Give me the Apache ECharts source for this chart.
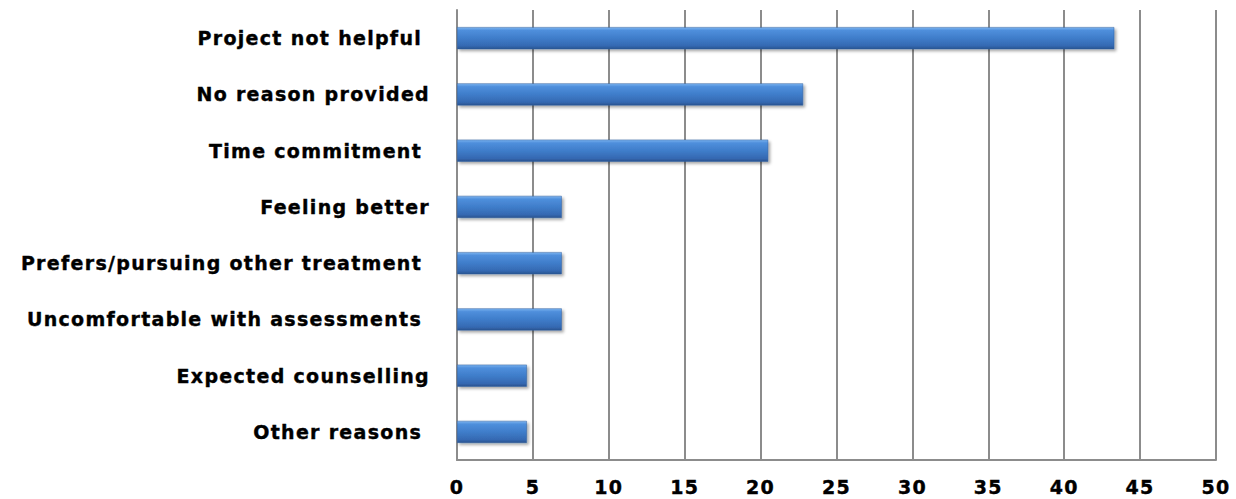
<!DOCTYPE html>
<html>
<head>
<meta charset="utf-8">
<script src="https://cdn.jsdelivr.net/npm/echarts@6/dist/echarts.min.js"></script>
<style>
  html, body { margin: 0; padding: 0; background: #ffffff; }
  #chart { width: 1236px; height: 499px; }
  /* wide, heavy lettering for all axis text */
  #chart svg text { letter-spacing: 1.3px; }
</style>
</head>
<body>
<div id="chart"></div>
<script>
// Reasons for leaving the project (top to bottom), percentage of participants
const reasons = [
  'Project not helpful ',
  'No reason provided',
  'Time commitment ',
  'Feeling better',
  'Prefers/pursuing other treatment ',
  'Uncomfortable with assessments ',
  'Expected counselling',
  'Other reasons '
];
const percentages = [43.3, 22.8, 20.5, 6.9, 6.9, 6.9, 4.6, 4.6];
const axisMin = 0;
const axisMax = 50;
const axisStep = 5;

const chart = echarts.init(document.getElementById('chart'), null, { renderer: 'svg' });

const barFill = new echarts.graphic.LinearGradient(0, 0, 0, 1, [
  { offset: 0, color: '#7db4f0' },
  { offset: 0.14, color: '#4f8fdc' },
  { offset: 0.5, color: '#3f7dca' },
  { offset: 0.86, color: '#3569b2' },
  { offset: 1, color: '#2a5490' }
]);

const labelFont = {
  color: '#000000',
  fontFamily: 'DejaVu Sans',
  fontWeight: 'bold',
  textBorderColor: '#000000',
  textBorderWidth: 0.4
};

chart.setOption({
  animation: false,
  backgroundColor: '#ffffff',
  grid: { left: 457, right: 20, top: 10, bottom: 39, containLabel: false },
  xAxis: {
    type: 'value',
    min: axisMin,
    max: axisMax,
    interval: axisStep,
    axisLine: { show: true, lineStyle: { color: '#8c8c8c', width: 2 } },
    axisTick: { show: false },
    splitLine: { show: true, lineStyle: { color: '#8c8c8c', width: 2 } },
    axisLabel: Object.assign({ margin: 17, fontSize: 19 }, labelFont)
  },
  yAxis: {
    type: 'category',
    data: reasons,
    inverse: true,
    axisLine: { show: true, lineStyle: { color: '#8c8c8c', width: 2 } },
    axisTick: { show: false },
    splitLine: { show: false },
    axisLabel: Object.assign({ margin: 27, fontSize: 19 }, labelFont)
  },
  series: [{
    type: 'bar',
    data: percentages,
    barWidth: 22,
    itemStyle: {
      color: barFill,
      borderColor: '#2f5f9e',
      borderWidth: 0.5,
      shadowColor: 'rgba(0,0,0,0.35)',
      shadowBlur: 3,
      shadowOffsetX: 2,
      shadowOffsetY: 2
    }
  }]
});
</script>
</body>
</html>
